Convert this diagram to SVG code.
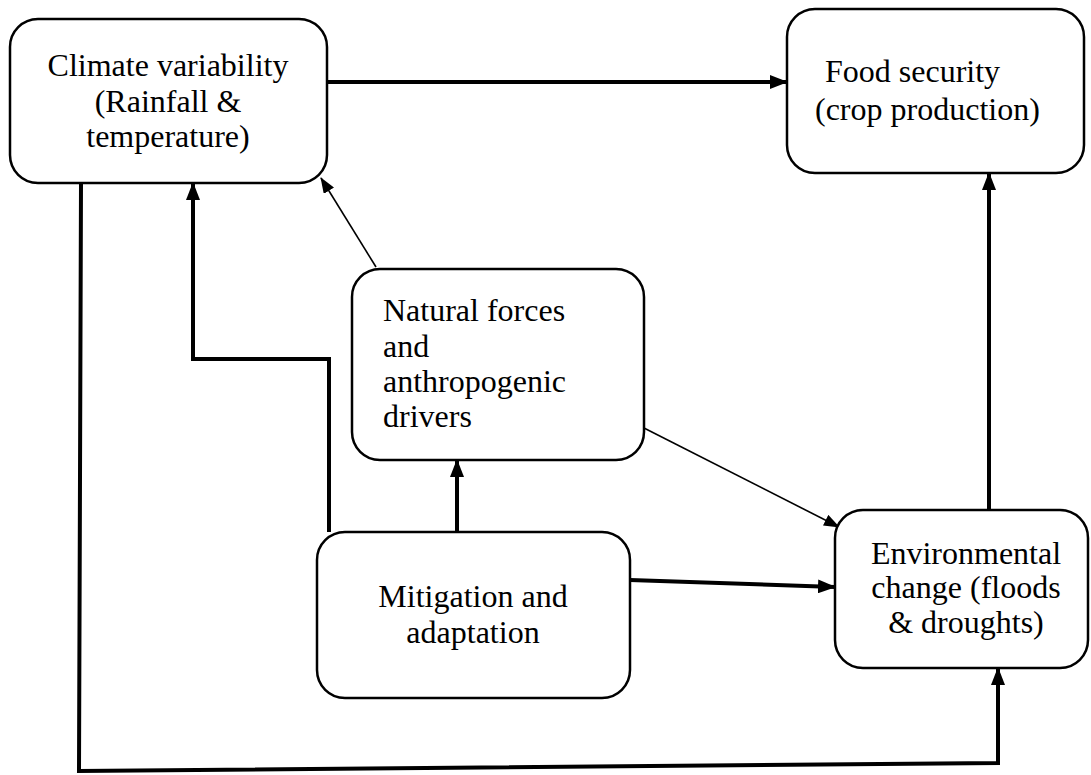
<svg xmlns="http://www.w3.org/2000/svg" width="1091" height="775" viewBox="0 0 1091 775">
<style>
.box{fill:#fff;stroke:#000;stroke-width:2.5}
.t{font-family:"Liberation Serif","Times New Roman",serif;font-size:32px;fill:#000}
.c{text-anchor:middle}
.thick{fill:none;stroke:#000;stroke-width:4}
.thin{fill:none;stroke:#000;stroke-width:1.6}
</style>
<defs>
<marker id="ah" markerUnits="userSpaceOnUse" markerWidth="18" markerHeight="14" refX="17" refY="7" orient="auto">
<path d="M0,0 L18,7 L0,14 Z" fill="#000"/>
</marker>
<marker id="ahs" markerUnits="userSpaceOnUse" markerWidth="16" markerHeight="12" refX="15" refY="6" orient="auto">
<path d="M0,0 L16,6 L0,12 Z" fill="#000"/>
</marker>
</defs>
<rect width="1091" height="775" fill="#fff"/>
<g id="connectors">
<path class="thick" d="M327,82 L787,82" marker-end="url(#ah)"/>
<path class="thick" d="M81,183 L79,771 L998,763 L998,668" marker-end="url(#ah)"/>
<path class="thick" d="M329,532 L329,359 L193,359 L193,183" marker-end="url(#ah)"/>
<path class="thin" d="M376,267 L321,178" marker-end="url(#ahs)"/>
<path class="thick" d="M457,532 L457,460" marker-end="url(#ah)"/>
<path class="thin" d="M644,428 L839,527" marker-end="url(#ahs)"/>
<path class="thick" d="M630,580 L835,587" marker-end="url(#ah)"/>
<path class="thick" d="M989,510 L989,173" marker-end="url(#ah)"/>
</g>
<g id="climate">
<rect class="box" x="10" y="19" width="317" height="164" rx="28"/>
<text class="t c" x="168" y="76">Climate variability</text>
<text class="t c" x="168" y="112">(Rainfall &amp;</text>
<text class="t c" x="168" y="147">temperature)</text>
</g>
<g id="food">
<rect class="box" x="787" y="9" width="297" height="164" rx="28"/>
<text class="t" x="825" y="82">Food security</text>
<text class="t" x="815" y="120">(crop production)</text>
</g>
<g id="natural">
<rect class="box" x="352" y="269" width="292" height="191" rx="28"/>
<text class="t" x="383" y="321">Natural forces</text>
<text class="t" x="383" y="357">and</text>
<text class="t" x="383" y="392">anthropogenic</text>
<text class="t" x="383" y="427">drivers</text>
</g>
<g id="mitigation">
<rect class="box" x="317" y="532" width="313" height="166" rx="28"/>
<text class="t c" x="473" y="607">Mitigation and</text>
<text class="t c" x="473" y="643">adaptation</text>
</g>
<g id="environmental">
<rect class="box" x="835" y="510" width="253" height="158" rx="28"/>
<text class="t c" x="966" y="564">Environmental</text>
<text class="t c" x="966" y="598">change (floods</text>
<text class="t c" x="966" y="633">&amp; droughts)</text>
</g>
</svg>
